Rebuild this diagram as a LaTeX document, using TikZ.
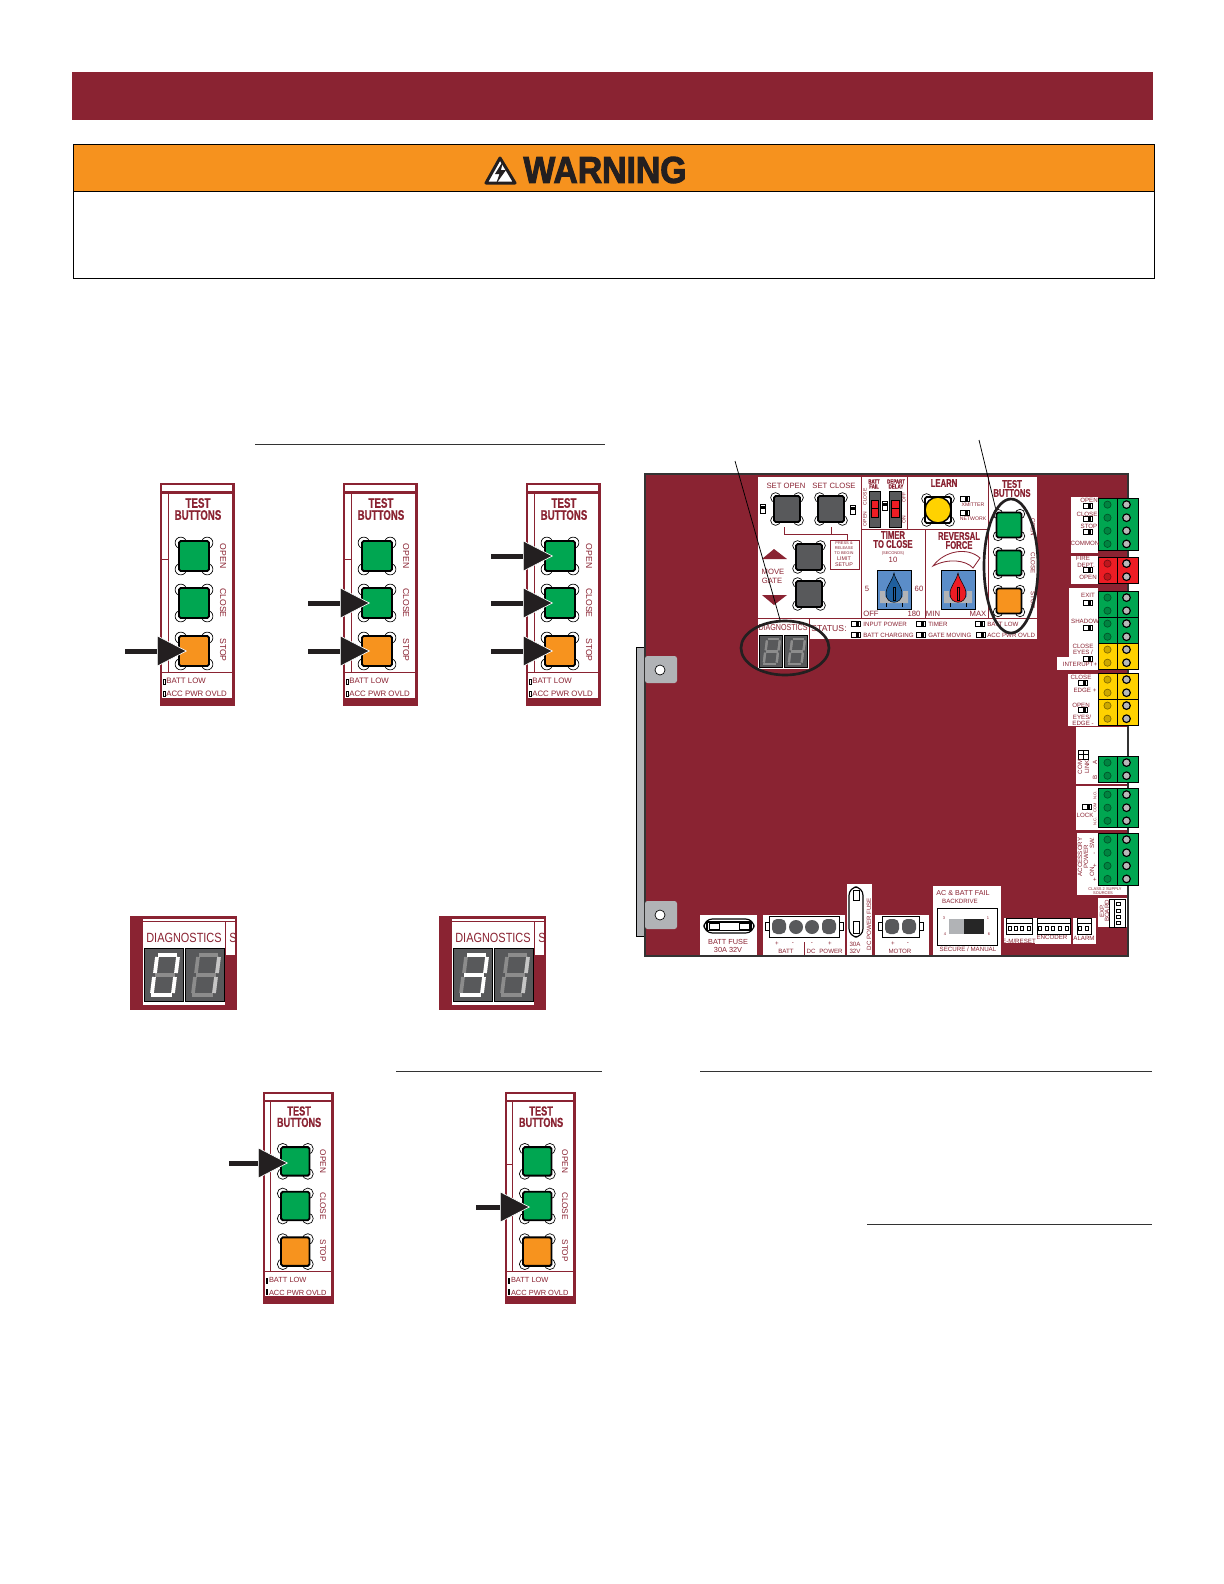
\documentclass[tikz,border=0pt]{standalone}
\usepackage{fontspec}
\usepackage{xcolor}
\usetikzlibrary{arrows.meta,shapes.geometric}
\setmainfont{Liberation Sans}
\newfontfamily\ttlfont[FakeStretch=0.7,BoldFeatures={FakeBold=0.5}]{Liberation Sans}
\newfontfamily\nrwfont[FakeStretch=0.82]{Liberation Sans}
\newfontfamily\warnfont[FakeStretch=0.9,BoldFeatures={FakeBold=2.5}]{Liberation Sans}
\newcommand{\ttlsize}[1]{\ttlfont\bfseries\fontsize{#1}{#1}\selectfont}
\newcommand{\nrwsize}[1]{\nrwfont\fontsize{#1}{#1}\selectfont}
\newcommand{\lblsize}[1]{\fontsize{#1}{#1}\selectfont}
\newcommand{\slsh}{/}
\definecolor{boardred}{HTML}{8A2332}
\definecolor{warnorange}{HTML}{F6921E}
\definecolor{keygreen}{HTML}{00A651}
\definecolor{keyorange}{HTML}{F7931E}
\definecolor{termyellow}{HTML}{FFD200}
\definecolor{termred}{HTML}{ED1C24}
\definecolor{keygray}{HTML}{58595B}
\definecolor{tabgray}{HTML}{B1B3B6}
\definecolor{dialblue}{HTML}{5B8DC8}
\definecolor{knobblue}{HTML}{1F5F9E}
\definecolor{inkblack}{HTML}{231F20}
\tikzset{
  lbl/.style={text=boardred,inner sep=0pt,font=\lblsize{3.7}},
  lblbig/.style={text=boardred,inner sep=0pt,font=\lblsize{4.6}},
  tiny/.style={text=boardred,inner sep=0pt,font=\lblsize{2.4}},
  ttl/.style={text=boardred,inner sep=0pt,font=\ttlsize{6.6}},
  redline/.style={draw=boardred,line width=0.5pt},
  ledbox/.style={draw=black,fill=white,line width=0.4pt},
  callout/.style={draw=black,line width=0.45pt},
  ovalmark/.style={ellipse,draw=inkblack,line width=1.6pt,inner sep=0pt},
  pressarrow/.style={draw=inkblack,line width=3pt,-{Triangle[length=18pt,width=18.6pt,line width=0.4pt,color=white,fill=inkblack]}},
  rulerline/.style={draw=black!80,line width=0.5pt},
  pics/pushkey/.style n args={2}{code={
    \foreach \dx/\dy in {-1/-1,1/-1,-1/1,1/1}
      \draw[draw=black,fill=white,line width=0.4pt] (\dx*#2*0.44,\dy*#2*0.44) circle (#2*0.19);
    \draw[fill=#1,draw=black,line width=1.1pt,rounded corners=1pt] (-#2/2,-#2/2) rectangle (#2/2,#2/2);
  }},
  pics/ledpair/.style={code={
    \draw[ledbox] (-5,-2.5) rectangle (5,2.5);
    \fill[black] (0,-2.5) rectangle (3,2.5);
  }},
  pics/testpanel/.style={code={
    \fill[boardred] (0,0) rectangle (75,223);
    \fill[white] (2,2) rectangle (72,8);
    \fill[white] (2,11) rectangle (72,215);
    \draw[redline] (8,11) -- (8,189);
    \draw[redline] (2,76) -- (8,76);
    \draw[redline] (2,189) -- (72,189);
    \node[ttl,transform shape,font=\ttlsize{8.3}] (test) at (38,20) {TEST};
    \node[ttl,transform shape,font=\ttlsize{8.3}] (btns) at (38,32) {BUTTONS};
    \pic[transform shape] at (34,73) {pushkey={keygreen}{30}};
    \pic[transform shape] at (34,120) {pushkey={keygreen}{30}};
    \pic[transform shape] at (34,168) {pushkey={keyorange}{30}};
    \node[lbl,transform shape,font=\lblsize{5.2},rotate=-90] (open) at (63,73) {OPEN};
    \node[lbl,transform shape,font=\lblsize{5.2},rotate=-90] (close) at (63,120) {CLOSE};
    \node[lbl,transform shape,font=\lblsize{5.2},rotate=-90] (stop) at (63,167) {STOP};
    \draw[ledbox] (3,196) rectangle (5,201);
    \draw[ledbox] (3,208) rectangle (5,213);
    \node[lbl,transform shape,font=\lblsize{4.7},anchor=west] (battlow) at (6,198) {BATT LOW};
    \node[lbl,transform shape,font=\lblsize{4.7},anchor=west] (accpwr) at (6,211) {ACC PWR OVLD};
  }},
  pics/sevenseg/.style n args={3}{code={
    \fill[keygray,draw=black,line width=0.5pt] (0,0) rectangle (39,53);
    \foreach \sg/\xa/\ya/\xb/\yb in {a/14/7/33/7,b/34/9/32/25,c/31/29/29/45,d/7/47/28/47,e/10/29/8/45,f/13/9/11/25,g/11/27/31/27} {
      \coordinate (\sg1) at (\xa,\ya);
      \coordinate (\sg2) at (\xb,\yb);
      \draw[draw=gray!90,line width=#3] (\sg1) -- (\sg2);
    }
    \foreach \sg in {#1}
      \draw[draw=#2,line width=#3] (\sg1) -- (\sg2);
  }},
  pics/digitpanel/.style n args={3}{code={
    \fill[boardred] (0,0) rectangle (107,94);
    \fill[white] (13,3) rectangle (105,5);
    \fill[white] (13,6) rectangle (95,89);
    \fill[white] (96,6) rectangle (105,39);
    \begin{scope}
      \clip (96,6) rectangle (105,39);
      \node[lbl,font=\nrwsize{8}] (cutS) at (103,22) {S};
    \end{scope}
    \node[lbl,font=\nrwsize{8}] (dgtitle) at (54,22) {DIAGNOSTICS};
    \pic (dga) at (14,32) {sevenseg={#1}{white}{2.2pt}};
    \pic (dgb) at (55,32) {sevenseg={#2}{#3}{2.2pt}};
  }},
  pics/termblock/.style n args={2}{code={
    \fill[#1,draw=black,line width=0.6pt] (0,0) rectangle (40,#2*13.1);
    \draw[black,line width=0.5pt] (19,0) -- (19,#2*13.1);
    \foreach \k in {1,...,#2} {
      \draw[draw=#1!50!black,fill=#1!80!black,line width=0.4pt] (9.5,\k*13.1-6.5) circle (3.6);
      \draw[draw=black,fill=gray!55,line width=0.7pt] (28.5,\k*13.1-6.5) circle (3.8);
    }
  }},
  pics/dialbox/.style={code={
    \draw[fill=dialblue,draw=black,line width=0.6pt] (0,0) rectangle (34,39);
    \fill[tabgray] (3,21) -- (8,21) -- (8,27) -- (26,27) -- (26,21) -- (31,21) -- (31,33) -- (3,33) -- cycle;
    \draw[line width=0.3pt] (9,33) -- (9,37) (25,33) -- (25,37);
    \draw[fill=#1,draw=black,line width=0.3pt] (17,3) .. controls (19,12) and (25,16) .. (25,24) .. controls (25,35) and (9,35) .. (9,24) .. controls (9,16) and (15,12) .. (17,3) -- cycle;
    \draw[black,line width=0.3pt] (16,17) rectangle (18,30);
  }},
}
\begin{document}
\begin{tikzpicture}[x=0.6pt,y=-0.6pt]
  \useasboundingbox (0,0) rectangle (1224,1584);
  \fill[white] (0,0) rectangle (1224,1584);

  % page head
  \fill[boardred] (72,72) rectangle (1153,120);
  \fill[warnorange] (73,144) rectangle (1154,191);
  \draw[black,line width=0.6pt] (73,144) rectangle (1154,278);
  \draw[black,line width=0.6pt] (73,191) -- (1154,191);
  \draw[fill=white,draw=inkblack,line width=1.8pt,line join=round] (500,158) -- (515,183) -- (486,183) -- cycle;
  \fill[inkblack] (503,161) -- (495,174) -- (499.5,174) -- (496,184) -- (506,170) -- (501,170) -- cycle;
  \node[inner sep=0pt,text=inkblack,font=\warnfont\bfseries\fontsize{22.5}{22.5}\selectfont] (warnword) at (605,170) {WARNING};

  % section rules
  \coordinate (ra1) at (255,444);
  \coordinate (ra2) at (605,444);
  \coordinate (rb1) at (396,1071);
  \coordinate (rb2) at (602,1071);
  \coordinate (rc1) at (700,1071);
  \coordinate (rc2) at (1152,1071);
  \coordinate (rd1) at (867,1224);
  \coordinate (rd2) at (1152,1224);
  \foreach \ru in {ra,rb,rc,rd}
    \draw[rulerline] (\ru1) -- (\ru2);

  % test button strips
  \pic (pa) at (160,483) {testpanel};
  \pic (pb) at (343,483) {testpanel};
  \pic (pc) at (526,483) {testpanel};
  \pic[scale=0.95] (pd) at (263,1092) {testpanel};
  \pic[scale=0.95] (pe) at (505,1092) {testpanel};

  % press arrows
  \foreach \idx/\xa/\xb/\yy in {1/125/187/651,2/308/370/603,3/308/370/651,4/491/553/556,5/491/553/603,6/491/553/651,7/229/288/1163,8/476/530/1207} {
    \coordinate (arA\idx) at (\xa,\yy);
    \coordinate (arB\idx) at (\xb,\yy);
    \draw[pressarrow] (arA\idx) -- (arB\idx);
  }

  % diagnostics strips
  \pic (da) at (130,916) {digitpanel={a,b,c,d,e,f}{b,c}{gray!45}};
  \pic (db) at (439,916) {digitpanel={a,b,g,c,d}{b,c}{gray!45}};

  % board
  \fill[tabgray,draw=black,line width=0.5pt] (636,647) rectangle (645,936);
  \fill[boardred,draw=black!80,line width=0.8pt] (645,474) rectangle (1128,956);
  \fill[tabgray,rounded corners=1.5pt] (645,656) rectangle (677,683);
  \fill[tabgray,rounded corners=1.5pt] (645,901) rectangle (677,929);
  \draw[fill=white,draw=black,line width=0.4pt] (660,670) circle (5);
  \draw[fill=white,draw=black,line width=0.4pt] (660,915) circle (5);

  % white pads
  \foreach \xa/\ya/\xb/\yb in {758/477/1037/639,758/618/809/669,1071/497/1098/553,1071/556/1098/584,1069/588/1098/670,1057/657/1098/670,1068/674/1098/726,1076/727/1127/784,1076/786/1127/830,1077/833/1127/895,700/915/757/955,763/915/845/955,847/884/872/955,875/915/929/955,933/886/1001/955,1004/918/1035/943,1035/918/1071/944,1073/918/1096/944,1098/898/1127/927}
    \fill[white] (\xa,\ya) rectangle (\xb,\yb);

  % control panel grid
  \draw[redline] (758,618) -- (1037,618);
  \draw[redline] (861,477) -- (861,618);
  \draw[redline] (907,477) -- (907,529);
  \draw[redline] (988,477) -- (988,618);
  \draw[redline] (925,529) -- (925,618);
  \draw[redline] (861,529) -- (988,529);
  \draw[redline] (809,618) -- (809,639);

  % push keys
  \pic at (787,509) {pushkey={keygray}{26}};
  \pic at (831,509) {pushkey={keygray}{26}};
  \pic at (809,557) {pushkey={keygray}{26}};
  \pic at (809,594) {pushkey={keygray}{26}};
  \pic at (1009,525) {pushkey={keygreen}{25}};
  \pic at (1009,563) {pushkey={keygreen}{25}};
  \pic at (1009,601) {pushkey={keyorange}{25}};
  \pic at (938,510) {pushkey={white}{26}};
  \draw[fill=termyellow,draw=black,line width=0.9pt] (938,510) circle (13);

  % limit setup box
  \draw[redline] (784,527) -- (784,534) -- (847,534) -- (847,540);
  \draw[redline] (831,527) -- (831,534);
  \draw[redline] (830,540) rectangle (859,569);
  \fill[boardred] (774,549) -- (787,559) -- (762,559) -- cycle;
  \fill[boardred] (774,605) -- (787,595) -- (762,595) -- cycle;

  % slide switches
  \foreach \xa/\xb in {869/880,889/901} {
    \fill[keygray,draw=black,line width=0.3pt] (\xa,491) rectangle (\xb,527);
    \fill[termred,draw=black,line width=0.3pt] (\xa+2,500) rectangle (\xb-2,517);
    \draw[black,line width=0.3pt] (\xa+2,508) -- (\xb-2,508);
  }

  % dials
  \pic at (877,570) {dialbox=knobblue};
  \pic at (941,570) {dialbox=termred};
  \draw[redline,fill=white] (933,566) .. controls (945,550) and (968,547) .. (980,558) -- (973,568) .. controls (966,560) and (948,558) .. (933,566) -- cycle;

  % leds
  \foreach \px/\py in {965/499,965/513,856/624,856/635,921/624,921/635,980/624,981/635,1088/506,1088/519,1088/532,1088/570,1088/603,1088/628,1088/659,1083/683,1083/710,1087/807}
    \pic[scale=0.9] at (\px,\py) {ledpair};
  \foreach \px/\py in {763/509,853/510,885/506}
    \pic[scale=0.9,rotate=90] at (\px,\py) {ledpair};
  \draw[ledbox] (1078,750) rectangle (1083,754);
  \draw[ledbox] (1083,750) rectangle (1088,754);
  \draw[ledbox] (1078,754) rectangle (1083,759);
  \draw[ledbox] (1083,754) rectangle (1088,759);

  % control panel text
  \foreach \nm/\px/\py/\txt in {setopen/786/486/SET OPEN,setclose/834/486/SET CLOSE,movew/773/572/MOVE,gatew/772/581/GATE,sec5/867/589/5,sec60/919/589/60,ticka/893/560/10,offw/871/614/OFF,sec180/914/614/180,minw/933/614/MIN,maxw/978/614/MAX}
    \node[lblbig] (\nm) at (\px,\py) {\txt};
  \foreach \nm/\px/\py/\txt in {xmit/973/505/XMITTER,netw/973/519/NETWORK}
    \node[lbl,font=\lblsize{3.1}] (\nm) at (\px,\py) {\txt};
  \foreach \nm/\px/\py/\txt in {inpow/863/624/INPUT POWER,batch/863/635/BATT CHARGING,timew/928/624/TIMER,gatem/928/635/GATE MOVING,batlo/987/624/BATT LOW,acco/987/635/ACC PWR OVLD}
    \node[lbl,anchor=west] (\nm) at (\px,\py) {\txt};
  \foreach \nm/\py/\txt in {prsa/543.5/PRESS \&,prsb/548/RELEASE,prsc/553/TO BEGIN}
    \node[tiny] (\nm) at (844,\py) {\txt};
  \node[tiny,font=\lblsize{3.2}] (prsd) at (844,559) {LIMIT};
  \node[tiny,font=\lblsize{3.2}] (prse) at (844,565) {SETUP};
  \node[tiny] (secw) at (893,553) {(SECONDS)};
  \foreach \nm/\px/\py/\txt in {closesw/865/497/CLOSE,opensw/865/519/OPEN,offsw/904/497/OFF,onsw/904/520/ON}
    \node[lbl,rotate=90,font=\lblsize{3}] (\nm) at (\px,\py) {\txt};
  \foreach \nm/\px/\py/\txt in {kopen/1033/527/OPEN,kclose/1033/563/CLOSE,kstop/1033/600/STOP}
    \node[lbl,rotate=-90] (\nm) at (\px,\py) {\txt};
  \node[lbl,font=\nrwsize{5.2}] (diagw) at (783,628) {DIAGNOSTICS};
  \node[lbl,font=\lblsize{5.2}] (statw) at (829,629) {STATUS:};
  \node[ttl,font=\ttlsize{3.8}] (battf) at (874,481.5) {BATT};
  \node[ttl,font=\ttlsize{3.8}] (failw) at (874,486.5) {FAIL};
  \node[ttl,font=\ttlsize{3.8}] (depart) at (896,481.5) {DEPART};
  \node[ttl,font=\ttlsize{3.8}] (delayw) at (896,486.5) {DELAY};
  \node[ttl] (learnw) at (944,483) {LEARN};
  \node[ttl] (tbt) at (1012,484) {TEST};
  \node[ttl] (tbb) at (1012,493) {BUTTONS};
  \node[ttl] (tmra) at (893,535) {TIMER};
  \node[ttl] (tmrb) at (893,544) {TO CLOSE};
  \node[ttl] (revw) at (959,536) {REVERSAL};
  \node[ttl] (frcw) at (959,545) {FORCE};

  % board diagnostics digits
  \pic[scale=0.61] (bda) at (759,635) {sevenseg={a,b,c,d,e,f,g}{gray!90}{1.3pt}};
  \pic[scale=0.61] (bdb) at (784,635) {sevenseg={a,b,c,d,e,f,g}{gray!90}{1.3pt}};

  % terminal blocks
  \foreach \ty/\nr/\cl in {498/4/keygreen,557/2/termred,591/2/keygreen,617/2/keygreen,643/2/termyellow,673/2/termyellow,699/2/termyellow,756/2/keygreen,788/3/keygreen,833/4/keygreen}
    \pic at (1098,\ty) {termblock={\cl}{\nr}};

  % terminal text
  \foreach \nm/\px/\py/\txt in {topen/1089/500/OPEN,tclose/1087/514/CLOSE,tstop/1089/526/STOP,tcomm/1085/543/COMMON,tfire/1083/558/FIRE,tdept/1086/565/DEPT.,tfopen/1088/577/OPEN,texit/1088/595/EXIT,tshad/1085/621/SHADOW,tceye/1083/646/CLOSE,teyes/1083/652/EYES \slsh,tintr/1080/664/INTERUPT+,tcedg/1081/677/CLOSE,tedgp/1085/690/EDGE +,toopn/1081/705/OPEN,tedge/1082/717/EYES\slsh,tedgm/1083/723/EDGE -,tlock/1085/815/LOCK}
    \node[lbl] (\nm) at (\px,\py) {\txt};
  \foreach \nm/\px/\py/\txt in {tcom/1080/767/COM,tlink/1087/767/LINK,tbia/1095/762/A,tbib/1095/777/B,tacc/1080/857/ACCESSORY,tpow/1086/857/POWER,tsw/1092/843/SW.,tonw/1092/872/ON,tmina/1095/853/-,tplsa/1095/866/+,tplsb/1095/880/+}
    \node[lbl,rotate=90] (\nm) at (\px,\py) {\txt};
  \foreach \nm/\py/\txt in {tno/795/N.O.,tcm/808/COM,tnc/821/N.C.}
    \node[tiny,rotate=90] (\nm) at (1095,\py) {\txt};
  \node[tiny] (tcls) at (1105,889) {CLASS 2 SUPPLY};
  \node[tiny] (tsrc) at (1103,893) {SOURCES};

  % batt fuse
  \draw[fill=white,draw=black,line width=0.7pt,rounded corners=5pt] (704,919) rectangle (754,933);
  \fill[black] (706,921) rectangle (752,931);
  \fill[white] (708,922.5) rectangle (750,929.5);
  \draw[ledbox] (709,923) rectangle (719,929);
  \draw[ledbox] (739,923) rectangle (749,929);
  % dc power fuse
  \draw[fill=white,draw=black,line width=0.7pt,rounded corners=5pt] (849,887) rectangle (863,937);
  \draw[ledbox] (853,890) rectangle (859,900);
  \draw[ledbox] (853,921) rectangle (859,933);
  % plugs
  \draw[ledbox] (769,916) rectangle (839,937);
  \draw[ledbox] (765,922) rectangle (769,930);
  \draw[ledbox] (839,922) rectangle (843,930);
  \draw[ledbox] (882,916) rectangle (919,937);
  \draw[ledbox] (878,922) rectangle (882,930);
  \draw[ledbox] (919,922) rectangle (923,930);
  \foreach \px in {779,829,892,909}
    \fill[keygray,rounded corners=3pt] (\px-7,934) rectangle (\px+7,919);
  \foreach \px in {796,812}
    \fill[keygray] (\px,927) circle (7);
  \draw[redline] (804,942) -- (804,955);
  \foreach \nm/\px/\py/\txt in {bplsa/777/944/+,bmina/793/944/-,bminb/812/944/-,bplsb/830/944/+,bbatt/786/951/BATT,bdc/811/951/DC,bpowr/831/951/POWER,bfc/855/944/30A,bfd/855/951/32V,bmpls/893/944/+,bmmin/908/944/-,bmotr/900/951/MOTOR,bback/960/901/BACKDRIVE,bsec/968/949/SECURE \slsh{} MANUAL,bencd/1052/937/ENCODER,balrm/1084/938/ALARM,brst/1019/941/E-M\slsh{}RESET}
    \node[lbl] (\nm) at (\px,\py) {\txt};
  \node[lbl,font=\lblsize{4.4}] (bfa) at (728,942) {BATT FUSE};
  \node[lbl,font=\lblsize{4.4}] (bfb) at (728,950) {30A 32V};
  \node[lbl,font=\lblsize{4.3}] (bacb) at (963,893) {AC \& BATT FAIL};
  \node[lbl,rotate=90] (bdcf) at (869,924) {DC POWER FUSE};
  \node[lbl,rotate=90] (bexp) at (1102,911) {EXP.};
  \node[lbl,rotate=90] (bbrd) at (1107,911) {BOARD};
  % backdrive switch
  \draw[ledbox] (937,908) rectangle (997,945);
  \fill[tabgray] (949,919) rectangle (964,934);
  \fill[black!85] (964,919) rectangle (984,934);
  \foreach \nm/\px/\py/\txt in {nsa/944/918/3,nsb/988/918/1,nsc/945/934/4,nsd/989/934/6}
    \node[tiny] (\nm) at (\px,\py) {\txt};
  % small headers
  \foreach \xa/\xb in {1006/1032,1037/1070,1077/1091,1109/1125} {
    \ifnum\xa<1109
      \draw[ledbox] (\xa,918) rectangle (\xb,934);
      \draw[black,line width=0.4pt] (\xa,923) -- (\xb,923);
    \else
      \draw[ledbox] (\xa,899) rectangle (\xb,927);
      \draw[black,line width=0.4pt] (\xa+5,899) -- (\xa+5,927);
    \fi
  }
  \foreach \px in {1010,1016,1022,1029,1040,1047,1053,1060,1067,1080,1087}
    \draw[ledbox] (\px-1.8,926) rectangle (\px+1.8,930);
  \foreach \py in {904,911,917,923}
    \draw[ledbox] (1116,\py-1.8) rectangle (1120,\py+1.8);

  % callouts
  \node[ovalmark,minimum width=52.8pt,minimum height=32.4pt] (diagoval) at (785,648) {};
  \node[ovalmark,minimum width=32.4pt,minimum height=80.4pt] (testoval) at (1011,566) {};
  \coordinate (diagtop) at (735,461);
  \coordinate (testtop) at (979,440);
  \draw[callout] (diagtop) -- (diagoval.100);
  \draw[callout] (testtop) -- (testoval.105);
\end{tikzpicture}
\end{document}
